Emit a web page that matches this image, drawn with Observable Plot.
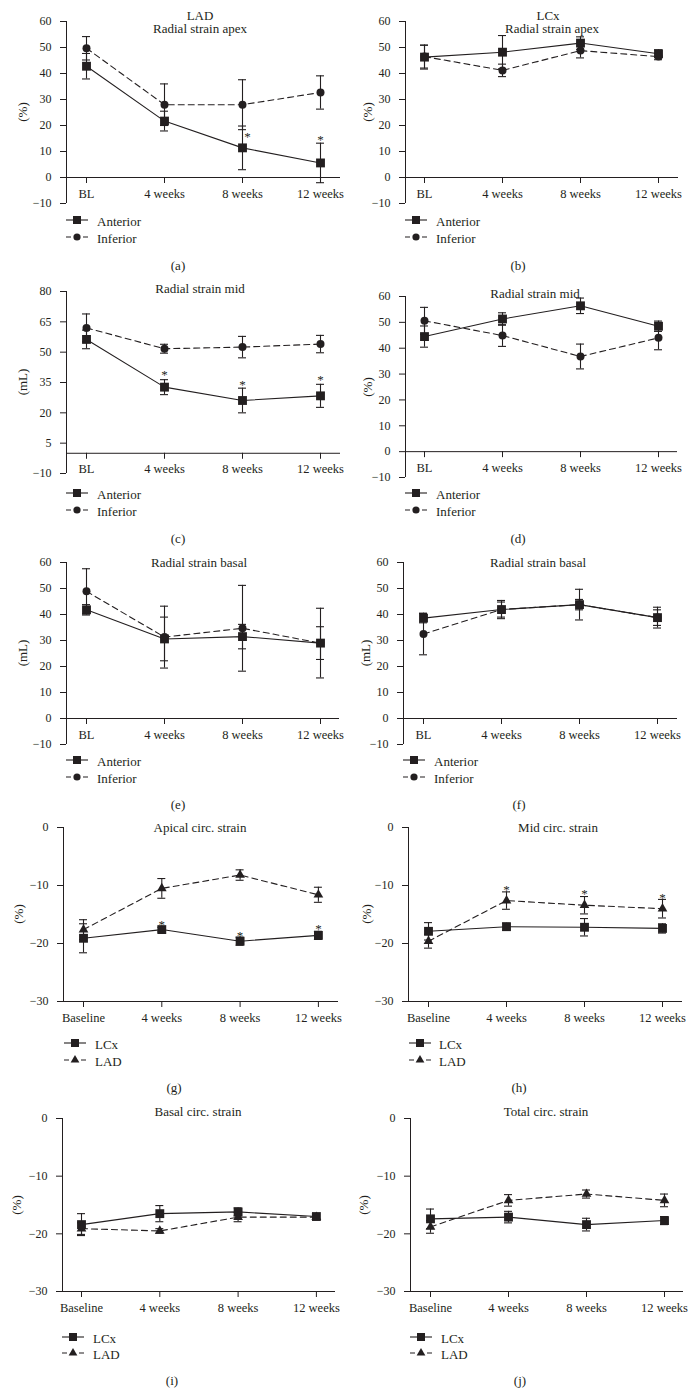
<!DOCTYPE html>
<html><head><meta charset="utf-8">
<script src="https://cdn.jsdelivr.net/npm/d3@7"></script>
<script src="https://cdn.jsdelivr.net/npm/@observablehq/plot@0.6"></script>
<style>
body{margin:0;background:#fff;font-family:"Liberation Serif","DejaVu Serif",serif;color:#231f20;}
#page{position:relative;width:695px;height:1395px;overflow:hidden;}
.abs{position:absolute;white-space:nowrap;line-height:1;}
.ctr{transform:translate(-50%,-50%);}
.vm{transform:translateY(-50%);}
.rot{transform:translate(-50%,-50%) rotate(-90deg);}
</style></head><body><div id="page"></div>
<script>
const ink = "#231f20";
const radialCats = ["BL", "4 weeks", "8 weeks", "12 weeks"];
const circCats = ["Baseline", "4 weeks", "8 weeks", "12 weeks"];
const radTicks = [60, 50, 40, 30, 20, 10, 0, -10];
const midTicksC = [80, 65, 50, 35, 20, 5, -10];
const circTicks = [0, -10, -20, -30];

// (a) LAD radial strain apex
const aAnterior = [42.8, 21.7, 11.4, 5.6];
const aAnteriorErr = [4.9, 3.8, 8.4, 7.6];
const aInferior = [49.7, 28.0, 28.0, 32.7];
const aInferiorErr = [4.5, 8.0, 9.6, 6.4];
const aStars = [null, null, 16.9, 15.6];
// (b) LCx radial strain apex
const bAnterior = [46.3, 48.2, 51.7, 47.6];
const bAnteriorErr = [4.6, 6.4, 2.4, 1.5];
const bInferior = [46.5, 41.2, 48.8, 46.5];
const bInferiorErr = [4.4, 2.4, 2.8, 1.2];
// (c) radial strain mid
const cAnterior = [56.3, 32.7, 26.1, 28.4];
const cAnteriorErr = [4.6, 3.7, 6.1, 5.7];
const cInferior = [62.0, 51.7, 52.5, 54.0];
const cInferiorErr = [6.9, 2.2, 5.3, 4.3];
const cStars = [null, 40.2, 35.3, 37.8];
// (d) radial strain mid
const dAnterior = [44.5, 51.3, 56.4, 48.5];
const dAnteriorErr = [4.1, 2.4, 3.0, 2.0];
const dInferior = [50.6, 44.9, 36.8, 44.0];
const dInferiorErr = [5.2, 4.2, 4.8, 4.6];
// (e) radial strain basal
const eAnterior = [41.8, 30.6, 31.5, 29.0];
const eAnteriorErr = [2.0, 8.4, 4.7, 6.3];
const eInferior = [48.9, 31.3, 34.7, 29.0];
const eInferiorErr = [8.7, 11.9, 16.5, 13.4];
// (f) radial strain basal
const fAnterior = [38.6, 41.9, 43.8, 38.8];
const fAnteriorErr = [1.8, 2.9, 2.0, 4.0];
const fInferior = [32.5, 41.9, 43.8, 38.8];
const fInferiorErr = [8.0, 3.5, 5.9, 3.0];
// (g) apical circ. strain
const gLCx = [-19.1, -17.6, -19.6, -18.6];
const gLCxErr = [2.5, 0.4, 0.7, 0.7];
const gLAD = [-17.6, -10.5, -8.2, -11.6];
const gLADErr = [1.7, 1.7, 0.9, 1.3];
const gStars = [null, -16.3, -18.2, -16.9];
// (h) mid circ. strain
const hLCx = [-17.9, -17.1, -17.2, -17.4];
const hLCxErr = [1.5, 0.6, 1.5, 0.8];
const hLAD = [-19.6, -12.6, -13.4, -14.0];
const hLADErr = [1.2, 1.5, 1.5, 1.6];
const hStars = [null, -10.3, -10.9, -11.6];
// (i) basal circ. strain
const iLCx = [-18.4, -16.5, -16.2, -17.0];
const iLCxErr = [1.9, 1.4, 0.7, 0.5];
const iLAD = [-19.1, -19.5, -17.1, -17.1];
const iLADErr = [1.0, 0.4, 0.8, 0.4];
// (j) total circ. strain
const jLCx = [-17.4, -17.1, -18.4, -17.7];
const jLCxErr = [1.7, 1.0, 1.1, 0.7];
const jLAD = [-18.8, -14.2, -13.1, -14.2];
const jLADErr = [1.1, 1.0, 0.7, 1.1];

const ant = (v, e) => ({name: "Anterior", values: v, err: e, symbol: "square", dash: null});
const inf = (v, e) => ({name: "Inferior", values: v, err: e, symbol: "circle", dash: "6,4"});
const lcx = (v, e) => ({name: "LCx", values: v, err: e, symbol: "square", dash: null});
const lad = (v, e) => ({name: "LAD", values: v, err: e, symbol: "triangle", dash: "6,4"});

const panels = [
  {left: 0, axis: 66, first: 86, step: 78, end: 340, top: 21, bottom: 203, domain: [-10, 60], ticks: radTicks, base: 0, cats: radialCats,
   ylabel: "(%)", labelX: 22, series: [ant(aAnterior, aAnteriorErr), inf(aInferior, aInferiorErr)], stars: aStars, starDx: [0, 0, 5, 0],
   titles: [["LAD", 200, 15], ["Radial strain apex", 200, 28]], legendY: [221, 238], legendX: 66, legendTextX: 97, caption: ["(a)", 178, 265]},
  {left: 345, axis: 405, first: 424, step: 78, end: 678, top: 21, bottom: 203, domain: [-10, 60], ticks: radTicks, base: 0, cats: radialCats,
   ylabel: "(%)", labelX: 367, series: [ant(bAnterior, bAnteriorErr), inf(bInferior, bInferiorErr)], stars: null,
   titles: [["LCx", 548, 15], ["Radial strain apex", 552, 28]], legendY: [221, 238], legendX: 405, legendTextX: 436, caption: ["(b)", 518, 265]},
  {left: 0, axis: 66, first: 86, step: 78, end: 340, top: 291, bottom: 473, domain: [-10, 80], ticks: midTicksC, base: 0, cats: radialCats,
   ylabel: "(mL)", labelX: 22, series: [ant(cAnterior, cAnteriorErr), inf(cInferior, cInferiorErr)], stars: cStars, starDx: [0, 0, 0, 0],
   titles: [["Radial strain mid", 200, 288]], legendY: [494, 511], legendX: 66, legendTextX: 97, caption: ["(c)", 178, 538]},
  {left: 345, axis: 405, first: 424, step: 78, end: 677, top: 296, bottom: 477, domain: [-10, 60], ticks: radTicks, base: 0, cats: radialCats,
   ylabel: "(%)", labelX: 367, series: [ant(dAnterior, dAnteriorErr), inf(dInferior, dInferiorErr)], stars: null,
   titles: [["Radial strain mid", 535, 293]], legendY: [494, 511], legendX: 405, legendTextX: 436, caption: ["(d)", 518, 538]},
  {left: 0, axis: 66, first: 86, step: 78, end: 339, top: 562, bottom: 744, domain: [-10, 60], ticks: radTicks, base: 0, cats: radialCats,
   ylabel: "(mL)", labelX: 22, series: [ant(eAnterior, eAnteriorErr), inf(eInferior, eInferiorErr)], stars: null,
   titles: [["Radial strain basal", 199, 562]], legendY: [761, 778], legendX: 66, legendTextX: 97, caption: ["(e)", 178, 804]},
  {left: 345, axis: 403, first: 423, step: 78, end: 677, top: 562, bottom: 744, domain: [-10, 60], ticks: radTicks, base: 0, cats: radialCats,
   ylabel: "(mL)", labelX: 365, series: [ant(fAnterior, fAnteriorErr), inf(fInferior, fInferiorErr)], stars: null,
   titles: [["Radial strain basal", 538, 562]], legendY: [761, 778], legendX: 403, legendTextX: 434, caption: ["(f)", 519, 804]},
  {left: 0, axis: 63, first: 83, step: 78.3, end: 338, top: 827, bottom: 1001, domain: [-30, 0], ticks: circTicks, base: -30, cats: circCats,
   ylabel: "(%)", labelX: 18, series: [lcx(gLCx, gLCxErr), lad(gLAD, gLADErr)], stars: gStars, starDx: [0, 0, 0, 0],
   titles: [["Apical circ. strain", 200, 827]], legendY: [1044, 1061], legendX: 64, legendTextX: 95, caption: ["(g)", 174, 1087]},
  {left: 345, axis: 408, first: 428, step: 78, end: 682, top: 827, bottom: 1001, domain: [-30, 0], ticks: circTicks, base: -30, cats: circCats,
   ylabel: "(%)", labelX: 366, series: [lcx(hLCx, hLCxErr), lad(hLAD, hLADErr)], stars: hStars, starDx: [0, 0, 0, 0],
   titles: [["Mid circ. strain", 558, 827]], legendY: [1044, 1061], legendX: 409, legendTextX: 439, caption: ["(h)", 519, 1087]},
  {left: 0, axis: 62, first: 81, step: 78.3, end: 335, top: 1118, bottom: 1291, domain: [-30, 0], ticks: circTicks, base: -30, cats: circCats,
   ylabel: "(%)", labelX: 16, series: [lcx(iLCx, iLCxErr), lad(iLAD, iLADErr)], stars: null,
   titles: [["Basal circ. strain", 198, 1111]], legendY: [1338, 1354], legendX: 62, legendTextX: 93, caption: ["(i)", 172, 1380]},
  {left: 345, axis: 410, first: 430, step: 78, end: 683, top: 1118, bottom: 1291, domain: [-30, 0], ticks: circTicks, base: -30, cats: circCats,
   ylabel: "(%)", labelX: 363, series: [lcx(jLCx, jLCxErr), lad(jLAD, jLADErr)], stars: null,
   titles: [["Total circ. strain", 546, 1111]], legendY: [1338, 1354], legendX: 410, legendTextX: 441, caption: ["(j)", 520, 1380]}
];

const page = document.getElementById("page");
function addText(txt, x, y, cls, size) {
  const d = document.createElement("div");
  d.className = "abs " + cls;
  d.style.left = x + "px"; d.style.top = y + "px"; d.style.fontSize = size + "px";
  d.textContent = txt;
  page.appendChild(d);
  return d;
}
const sizes = {square: 5.0, circle: 4.0, triangle: 3.6};

function legendSvg(s) {
  const ns = "http://www.w3.org/2000/svg";
  const svg = document.createElementNS(ns, "svg");
  svg.setAttribute("width", 24); svg.setAttribute("height", 12);
  const line = document.createElementNS(ns, "line");
  line.setAttribute("x1", 0); line.setAttribute("x2", 22); line.setAttribute("y1", 6); line.setAttribute("y2", 6);
  line.setAttribute("stroke", ink); line.setAttribute("stroke-width", 1.1);
  if (s.dash) line.setAttribute("stroke-dasharray", "5,12");
  svg.appendChild(line);
  const path = document.createElementNS(ns, "path");
  const sym = s.symbol === "square" ? d3.symbolSquare : s.symbol === "circle" ? d3.symbolCircle : d3.symbolTriangle;
  const r = sizes[s.symbol] * 0.9;
  path.setAttribute("d", d3.symbol(sym, r * r * Math.PI)());
  path.setAttribute("transform", "translate(11,6)");
  path.setAttribute("fill", ink);
  svg.appendChild(path);
  return svg;
}

for (const p of panels) {
  const mt = 10, mr = 8;
  const circ = p.base === p.domain[0];
  const mb = circ ? 30 : 4;
  const ml = p.axis - p.left;
  const width = p.end - p.left + mr;
  const height = mt + (p.bottom - p.top) + mb;
  const xd = [-(p.first - p.axis) / p.step, 3 + (p.end - (p.first + 3 * p.step)) / p.step];
  const cap = 4 / p.step;
  const xRows = p.cats.map((label, i) => ({i, label}));
  const marks = [
    Plot.ruleX([xd[0]], {y1: () => p.domain[0], y2: () => p.domain[1], stroke: ink, strokeWidth: 1}),
    Plot.ruleY([p.base], {stroke: ink, strokeWidth: 1}),
    Plot.ruleX(xRows, {x: "i", y1: () => p.base, y2: () => p.base, insetTop: 0, insetBottom: -6, stroke: ink, strokeWidth: 1}),
    Plot.text(xRows, {x: "i", y: () => p.base, text: "label", dy: 16, fontSize: 12.5, fill: ink}),
    Plot.axisY({ticks: p.ticks, tickSize: 6, tickPadding: 9, label: null, fontSize: 12, color: ink})
  ];
  for (const s of p.series) {
    const rows = s.values.map((v, i) => ({i, v, lo: v - s.err[i], hi: v + s.err[i]}));
    marks.push(Plot.line(rows, {x: "i", y: "v", stroke: ink, strokeWidth: 1.1, strokeDasharray: s.dash || undefined}));
    marks.push(Plot.ruleX(rows, {x: "i", y1: "lo", y2: "hi", stroke: ink, strokeWidth: 1.1}));
    marks.push(Plot.ruleY(rows, {y: "hi", x1: d => d.i - cap, x2: d => d.i + cap, stroke: ink, strokeWidth: 1.1}));
    marks.push(Plot.ruleY(rows, {y: "lo", x1: d => d.i - cap, x2: d => d.i + cap, stroke: ink, strokeWidth: 1.1}));
  }
  for (const s of p.series) {
    const rows = s.values.map((v, i) => ({i, v}));
    marks.push(Plot.dot(rows, {x: "i", y: "v", symbol: s.symbol, r: sizes[s.symbol], fill: ink, stroke: "none"}));
  }
  if (p.stars) {
    const srows = p.stars.map((y, i) => ({i, y, dx: p.starDx[i]})).filter(d => d.y != null);
    for (const d of srows) {
      marks.push(Plot.text([d], {x: "i", y: "y", text: () => "*", dx: d.dx, dy: 3, fontSize: 13, fill: ink}));
    }
  }
  const svg = Plot.plot({
    width, height, marginTop: mt, marginRight: mr, marginBottom: mb, marginLeft: ml,
    x: {type: "linear", domain: xd, axis: null},
    y: {domain: p.domain, label: null},
    style: {fontFamily: '"Liberation Serif", serif', fontSize: "12px", color: ink, background: "transparent", overflow: "visible"},
    marks
  });
  svg.style.position = "absolute";
  svg.style.left = p.left + "px";
  svg.style.top = (p.top - mt) + "px";
  page.appendChild(svg);

  for (const [t, x, y] of p.titles) addText(t, x, y, "ctr", 13);
  addText(p.ylabel, p.labelX, (p.top + p.bottom) / 2, "rot", 13);
  p.series.forEach((s, k) => {
    const holder = document.createElement("div");
    holder.className = "abs vm";
    holder.style.left = p.legendX + "px"; holder.style.top = p.legendY[k] + "px";
    holder.appendChild(legendSvg(s));
    page.appendChild(holder);
    addText(s.name, p.legendTextX, p.legendY[k], "vm", 13);
  });
  addText(p.caption[0], p.caption[1], p.caption[2], "ctr", 13);
}
</script></body></html>
